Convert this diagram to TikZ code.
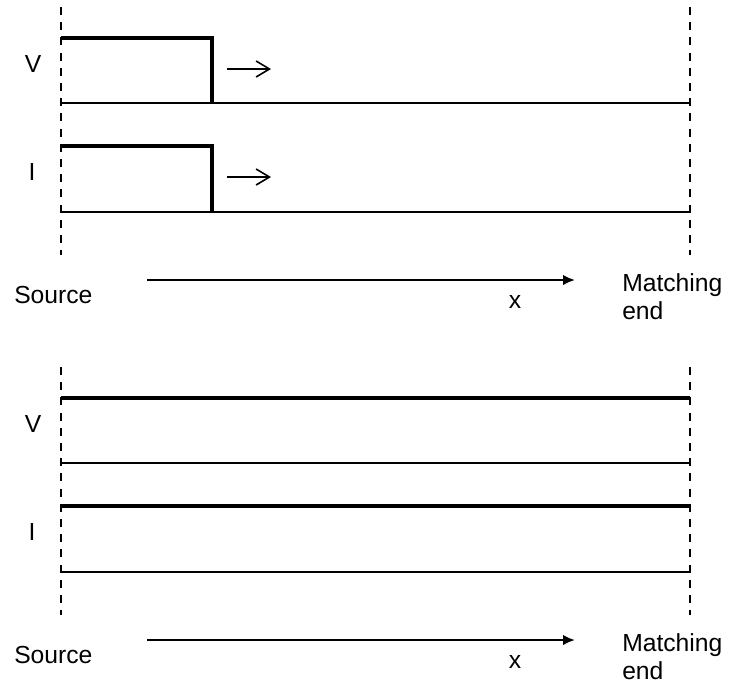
\documentclass[tikz,border=0pt]{standalone}
\usepackage{fontspec}
\setmainfont{Liberation Sans}
\usetikzlibrary{arrows.meta}

\tikzset{
  wave/.style={line width=2.5pt},
  baseline/.style={line width=1.7pt},
  guide/.style={line width=1.7pt, dash pattern=on 6pt off 5.4pt},
  moving/.style={line width=1.2pt, -{Straight Barb[length=10pt,width=12pt,line width=1.2pt]}},
  direction/.style={line width=1.8pt, -{Latex[length=9pt,width=8pt]}},
  lbl/.style={font=\fontsize{18.5pt}{21pt}\selectfont, inner sep=0pt}
}

\begin{document}
\begin{tikzpicture}[x=0.75pt, y=-0.75pt]
    \useasboundingbox (0,0) rectangle (730,686);

    % Top panel: pulse travelling along the line
    \draw[guide] (61,7) -- (61,255);
    \draw[guide] (690,7) -- (690,255);
    \node[lbl, anchor=base] (vtop) at (33,72) {V};
    \node[lbl, anchor=base] (itop) at (32,180) {I};

    % Voltage pulse
    \draw[wave] (61,38) -| (212,103);
    \draw[baseline] (61,103) -- (690,103);
    \coordinate (vmovestart) at (227,69);
    \coordinate (vmoveend) at (271,69);
    \draw[moving] (vmovestart) -- (vmoveend);

    % Current pulse
    \draw[wave] (61,146) -| (212,212);
    \draw[baseline] (61,212) -- (690,212);
    \coordinate (imovestart) at (227,177);
    \coordinate (imoveend) at (271,177);
    \draw[moving] (imovestart) -- (imoveend);

    % Axis
    \node[lbl, anchor=base west] (srctop) at (14,303) {Source};
    \node[lbl, anchor=base] (xtop) at (515,308) {x};
    \node[lbl, anchor=west, align=left] (endtop) at (622,297) {Matching\\end};
    \coordinate (axstarttop) at (147,280);
    \coordinate (axendtop) at (575,280);
    \draw[direction] (axstarttop) -- (axendtop);

    % Bottom panel: line fully charged
    \begin{scope}[yshift=-270pt]
      \draw[guide] (61,7) -- (61,255);
      \draw[guide] (690,7) -- (690,255);
      \node[lbl, anchor=base] (vbot) at (33,72) {V};
      \node[lbl, anchor=base] (ibot) at (32,180) {I};

      % Voltage and current
      \draw[wave] (61,38) -- (690,38);
      \draw[baseline] (61,103) -- (690,103);
      \draw[wave] (61,146) -- (690,146);
      \draw[baseline] (61,212) -- (690,212);

      % Axis
      \node[lbl, anchor=base west] (srcbot) at (14,303) {Source};
      \node[lbl, anchor=base] (xbot) at (515,308) {x};
      \node[lbl, anchor=west, align=left] (endbot) at (622,297) {Matching\\end};
      \coordinate (axstartbot) at (147,280);
      \coordinate (axendbot) at (575,280);
      \draw[direction] (axstartbot) -- (axendbot);
    \end{scope}
  \end{tikzpicture}
\end{document}
